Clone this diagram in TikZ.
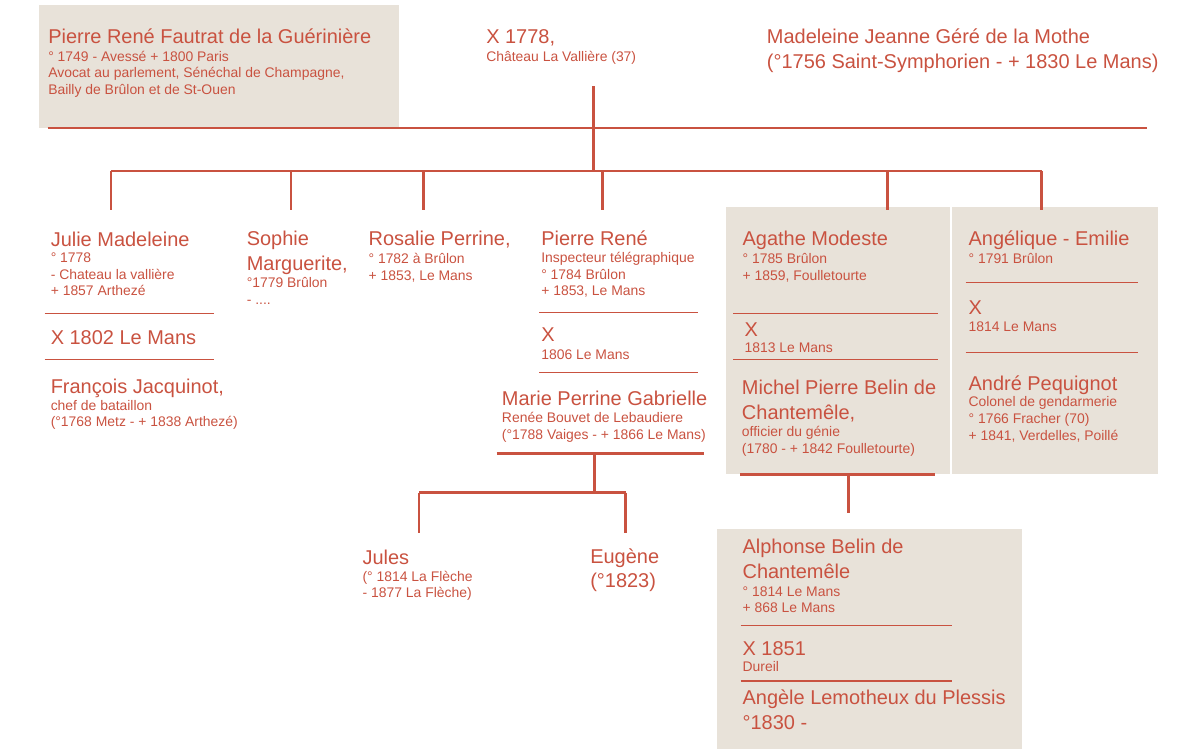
\documentclass[tikz,border=0pt]{standalone}
\usepackage{fontspec}
\setmainfont{Liberation Sans}
\usepackage{tikz}
\usetikzlibrary{positioning}
\definecolor{rouge}{RGB}{201, 82, 64}
\definecolor{beige}{RGB}{232, 226, 217}

% multi-line nodes sit on the baseline of their last line
\tikzset{
  nom/.style={anchor=base west, inner sep=0, text=rouge, align=left,
    font=\fontsize{14.2}{17.3}\selectfont},
  info/.style={anchor=base west, inner sep=0, text=rouge, align=left,
    font=\fontsize{9.9}{11.8}\selectfont},
  branch/.style={rouge, line width=2.1pt},
  rule/.style={rouge, line width=0.9pt},
  panel/.style={fill=beige, draw=none}
}

\begin{document}
\begin{tikzpicture}[x=0.025cm, y=-0.025cm]
  \useasboundingbox (0, 0) rectangle (1200, 749);

  % Panels
  \fill[panel] (39, 5) rectangle (399, 128);
  \fill[panel] (726, 207) rectangle (950, 474);
  \fill[panel] (952, 207) rectangle (1157.5, 474);
  \fill[panel] (717, 529) rectangle (1022, 749);

  % Parents
  \node[nom] (pere) at (48, 44) {Pierre René Fautrat de la Guérinière};
  \node[info] (pere-info) at (48, 94.5) {° 1749 - Avessé + 1800 Paris\\
    Avocat au parlement, Sénéchal de Champagne,\\Bailly de Brûlon et de St-Ouen};
  \node[nom] (noces) at (486, 44) {X 1778,};
  \node[info] (noces-info) at (486, 62) {Château La Vallière (37)};
  \node[nom] (mere) at (766.7, 68.3) {Madeleine Jeanne Géré de la Mothe\\
    (°1756 Saint-Symphorien - + 1830 Le Mans)};

  \coordinate (union) at (593.5, 86);
  \coordinate (couple) at (593.5, 128);
  \coordinate (fratrie) at (593.5, 171);
  \coordinate (ligne-g) at (47.7, 128);
  \coordinate (ligne-d) at (1147, 128);
  \draw[branch] (ligne-g) -- (ligne-d);
  \draw[branch] (union) -- (fratrie);

  % Children
  \foreach \x [count=\i] in {111, 291, 423.3, 602.3, 887.7, 1041.7} {
    \coordinate (enfant\i) at (\x, 210);
  }
  \draw[branch] (enfant1 |- fratrie) -- (enfant6 |- fratrie);
  \foreach \i in {1, ..., 6} {
    \draw[branch] (enfant\i |- fratrie) -- (enfant\i);
  }

  % Julie Madeleine
  \node[nom] (julie) at (50.5, 246) {Julie Madeleine};
  \node[info] (julie-info) at (50.5, 295.7) {° 1778\\- Chateau la vallière\\+ 1857 Arthezé};
  \draw[rule] (44.7, 313.3) -- (214, 313.3);
  \node[nom] (julie-x) at (50.5, 344.3) {X 1802 Le Mans};
  \draw[rule] (44.7, 359.3) -- (214, 359.3);
  \node[nom] (francois) at (50.5, 393.3) {François Jacquinot,};
  \node[info] (francois-info) at (50.5, 426.7) {chef de bataillon\\(°1768 Metz - + 1838 Arthezé)};

  % Sophie Marguerite
  \node[nom] (sophie) at (246.5, 270) {Sophie\\Marguerite,};
  \node[info] (sophie-info) at (246.5, 304) {°1779 Brûlon\\- ....};

  % Rosalie Perrine
  \node[nom] (rosalie) at (368.3, 245.7) {Rosalie Perrine,};
  \node[info] (rosalie-info) at (368.3, 280) {° 1782 à Brûlon\\+ 1853, Le Mans};

  % Pierre René
  \node[nom] (pierre) at (541, 245) {Pierre René};
  \node[info] (pierre-info) at (541, 295.7) {Inspecteur télégraphique\\° 1784 Brûlon\\+ 1853, Le Mans};
  \draw[rule] (539, 312.3) -- (698.3, 312.3);
  \node[nom] (pierre-x) at (541, 341.7) {X};
  \node[info] (pierre-x-info) at (541, 359) {1806 Le Mans};
  \draw[rule] (539, 372.3) -- (698.3, 372.3);
  \node[nom] (marie) at (501.7, 405) {Marie Perrine Gabrielle};
  \node[info] (marie-info) at (501.7, 439) {Renée Bouvet de Lebaudiere\\(°1788 Vaiges - + 1866 Le Mans)};

  \coordinate (pierre-g) at (496.7, 453.3);
  \coordinate (pierre-d) at (704.3, 453.3);
  \coordinate (pierre-fratrie) at (594.3, 492.7);
  \coordinate (jules-top) at (419, 533.3);
  \coordinate (eugene-top) at (625.7, 533.3);
  \draw[branch] (pierre-g) -- (pierre-d);
  \draw[branch] (pierre-fratrie |- pierre-g) -- (pierre-fratrie);
  \draw[branch] (jules-top |- pierre-fratrie) -- (eugene-top |- pierre-fratrie);
  \draw[branch] (jules-top |- pierre-fratrie) -- (jules-top);
  \draw[branch] (eugene-top |- pierre-fratrie) -- (eugene-top);

  \node[nom] (jules) at (362.3, 564.3) {Jules};
  \node[info] (jules-info) at (362.3, 597.7) {(° 1814 La Flèche\\- 1877 La Flèche)};
  \node[nom] (eugene) at (590, 587.7) {Eugène\\(°1823)};

  % Agathe Modeste
  \node[nom] (agathe) at (742.3, 245.7) {Agathe Modeste};
  \node[info] (agathe-info) at (742.3, 280) {° 1785 Brûlon\\+ 1859, Foulletourte};
  \draw[rule] (733.3, 313.3) -- (938.3, 313.3);
  \node[nom] (agathe-x) at (744.3, 336) {X};
  \node[info] (agathe-x-info) at (744.3, 352.7) {1813 Le Mans};
  \draw[rule] (733.3, 359.3) -- (938.3, 359.3);
  \node[nom] (michel) at (741.7, 419.3) {Michel Pierre Belin de\\Chantemêle,};
  \node[info] (michel-info) at (741.7, 453.3) {officier du génie\\(1780 - + 1842 Foulletourte)};

  \coordinate (agathe-g) at (740, 474.3);
  \coordinate (agathe-d) at (935, 474.3);
  \coordinate (alphonse-top) at (848.3, 513.3);
  \draw[branch] (agathe-g) -- (agathe-d);
  \draw[branch] (alphonse-top |- agathe-g) -- (alphonse-top);

  % Angelique - Emilie
  \node[nom] (angelique) at (968.3, 245.7) {Angélique - Emilie};
  \node[info] (angelique-info) at (968.3, 263.3) {° 1791 Brûlon};
  \draw[rule] (965.7, 282.7) -- (1138.3, 282.7);
  \node[nom] (angelique-x) at (968.3, 314.3) {X};
  \node[info] (angelique-x-info) at (968.3, 331.7) {1814 Le Mans};
  \draw[rule] (965.7, 352.3) -- (1138.3, 352.3);
  \node[nom] (andre) at (968.3, 390) {André Pequignot};
  \node[info] (andre-info) at (968.3, 440) {Colonel de gendarmerie\\° 1766 Fracher (70)\\+ 1841, Verdelles, Poillé};

  % Alphonse Belin de Chantemele
  \node[nom] (alphonse) at (742.3, 578.3) {Alphonse Belin de\\Chantemêle};
  \node[info] (alphonse-info) at (742.3, 612.7) {° 1814 Le Mans\\+ 868 Le Mans};
  \draw[rule] (740.7, 625.7) -- (952.3, 625.7);
  \node[nom] (alphonse-x) at (742.3, 655) {X 1851};
  \node[info] (alphonse-x-info) at (742.3, 671.7) {Dureil};
  \draw[rule] (740.7, 681) -- (952.3, 681);
  \node[nom] (angele) at (742.3, 729.3) {Angèle Lemotheux du Plessis\\°1830 -};

\end{tikzpicture}
\end{document}
